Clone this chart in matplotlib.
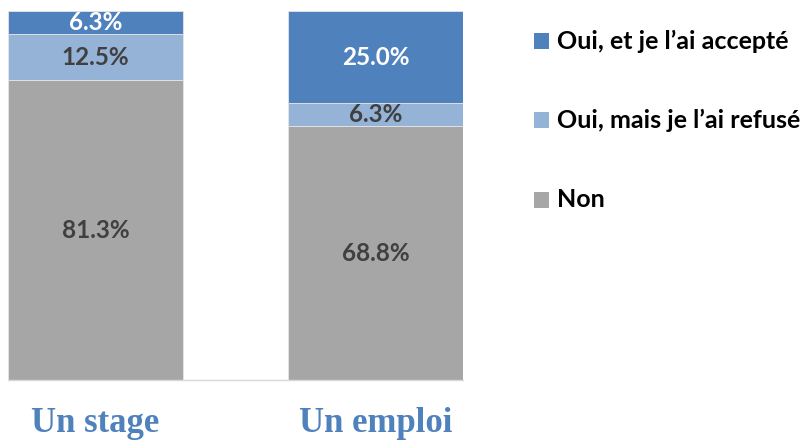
import matplotlib
matplotlib.use("Agg")
import matplotlib.pyplot as plt
from matplotlib.patches import Rectangle
import matplotlib.transforms as mtransforms

categories = ["Un stage", "Un emploi"]
series_names = ["Non", "Oui, mais je l\u2019ai refusé", "Oui, et je l\u2019ai accepté"]
non = [81.3, 68.8]
refuse = [12.5, 6.3]
accepte = [6.3, 25.0]

colors = ["#A6A6A6", "#95B3D7", "#4F81BD"]
label_colors = ["#404040", "#404040", "#FFFFFF"]

W, H = 810, 443
fig = plt.figure(figsize=(W / 100, H / 100), dpi=100)
fig.patch.set_facecolor("white")

# axes placed in pixel terms
left, right, top, bottom = 8, 463, 11, 380
ax = fig.add_axes([left / W, 1 - bottom / H, (right - left) / W, (bottom - top) / H])
bar_w = 0.626
ax.set_xlim(-bar_w / 2, 1 + bar_w / 2)
ax.set_ylim(0, 100.1)

x = [0, 1]
stack = [non, refuse, accepte]
base = [0.0, 0.0]
for vals, col, lcol in zip(stack, colors, label_colors):
    ax.bar(x, vals, width=bar_w, bottom=base, color=col,
           edgecolor="#E6E6E6", linewidth=0.6, zorder=2)
    for xi, v, b in zip(x, vals, base):
        ax.text(xi, b + v / 2, f"{v:.1f}%", ha="center", va="center",
                fontsize=17.5, fontweight="bold", color=lcol,
                family=["Lato", "DejaVu Sans"], zorder=3)
    base = [b + v for b, v in zip(base, vals)]

for s in ["top", "right", "left"]:
    ax.spines[s].set_visible(False)
ax.spines["bottom"].set_color("#D9D9D9")
ax.spines["bottom"].set_linewidth(1.0)
ax.set_xticks([])
ax.set_yticks([])

# category labels below the bars
trans = mtransforms.blended_transform_factory(ax.transData, fig.transFigure)
for xi, cat in zip(x, categories):
    ax.text(xi, 1 - 423 / H, cat, transform=trans, ha="center", va="center",
            fontsize=25, fontweight="bold", color="#4F81BD",
            family=["Liberation Serif", "DejaVu Serif"])

# legend drawn in figure pixels
legend_rows = [(41, series_names[2], colors[2]),
               (120, series_names[1], colors[1]),
               (200, series_names[0], colors[0])]
for yc, name, col in legend_rows:
    fig.patches.append(Rectangle((534 / W, 1 - (yc + 7.5) / H), 15 / W, 15 / H,
                                 transform=fig.transFigure, facecolor=col,
                                 edgecolor="none"))
    fig.text(557 / W, 1 - yc / H, name, ha="left", va="center",
             fontsize=18, fontweight="bold", color="#000000",
             family=["Lato", "DejaVu Sans"])

fig.savefig("out.png", dpi=100, facecolor="white")
